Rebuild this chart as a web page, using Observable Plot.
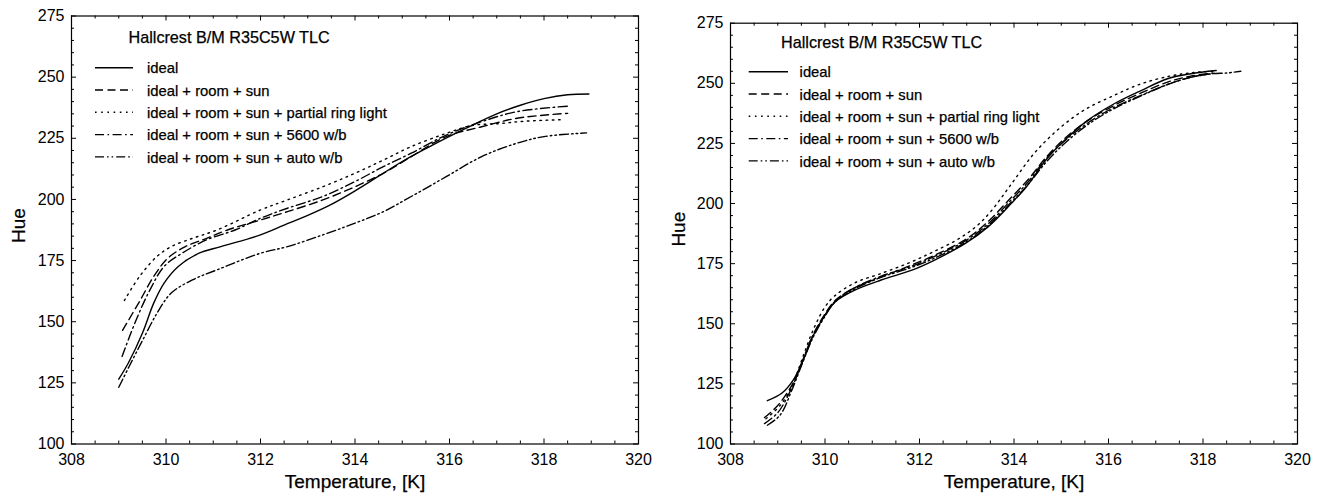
<!DOCTYPE html>
<html><head><meta charset="utf-8">
<script src="https://cdn.jsdelivr.net/npm/d3@7"></script>
<script src="https://cdn.jsdelivr.net/npm/@observablehq/plot@0.6"></script>
<style>
body{margin:0;background:#fff;}
#wrap{position:relative;width:1320px;height:497px;background:#fff;font-family:"Liberation Sans",Arial,Helvetica,sans-serif;}
.panel{position:absolute;top:0;width:660px;height:497px;}
#legend{position:absolute;left:0;top:0;pointer-events:none;}
</style></head><body><div id="wrap"></div>
<script>
// ---------- data ----------
const seriesNames = ["ideal", "ideal + room + sun", "ideal + room + sun + partial ring light", "ideal + room + sun + 5600 w/b", "ideal + room + sun + auto w/b"];
const seriesDash = [null, "8,4.5", "1.6,4.6", "9,3.5,1.6,3.5", "9,3,1.6,3,1.6,3"];
const chartTitle = "Hallcrest B/M R35C5W TLC";
const xLabel = "Temperature, [K]";
const yLabel = "Hue";
const xMajorTicks = [308, 310, 312, 314, 316, 318, 320];
const yMajorTicks = [100, 125, 150, 175, 200, 225, 250, 275];

// left panel  [temperature K, hue]
const leftIdeal = [[309.0,126.5],[309.2,133],[309.5,145.3],[309.74,157.6],[309.96,165.8],[310.26,172.6],[310.7,178],[311.16,180.7],[312,185.5],[312.5,189.5],[313,193.5],[313.5,198],[314,203.5],[314.5,209.5],[315,215.5],[315.5,220.8],[316,225.8],[316.5,230.5],[317,235],[317.5,238.5],[318,241.2],[318.5,242.8],[318.95,243.1]];
const leftRoomSun = [[309.08,146.5],[309.44,158.3],[309.74,168.5],[310.04,176],[310.41,180.7],[310.86,184.1],[311.3,187.5],[312,191.6],[312.57,195],[313.32,199.8],[314,205.2],[314.6,210.7],[315.19,217.5],[315.93,225.7],[316.68,229.7],[317.43,233.2],[318.5,235.2]];
const leftRingLight = [[309.12,158.7],[309.44,168.5],[309.81,176.7],[310.11,180.7],[310.56,184.1],[311.08,187.5],[312,195.7],[312.57,199.8],[313.32,205.2],[314,210.7],[314.6,216.1],[315.19,221.6],[315.93,227],[316.46,230.2],[317.05,231],[317.6,232],[318.37,232.6]];
const left5600 = [[309.07,135.8],[309.37,150.8],[309.66,163],[309.96,172.6],[310.34,178],[310.86,183.5],[311.46,187.5],[312,192.3],[312.57,196.4],[313.32,201.2],[314,207.3],[314.6,213.4],[315.19,218.9],[315.93,226.3],[316.68,231.8],[317.43,235.9],[318.55,238.2]];
const leftAuto = [[309.0,123.2],[309.22,131.7],[309.51,142.6],[309.81,153.5],[310.11,161.7],[310.56,167.1],[311.08,171.2],[312,178],[312.57,180.7],[313.32,185.5],[314,190.3],[314.6,195],[315.19,201.2],[315.93,209.3],[316.68,217.5],[317.43,223],[318,225.7],[318.9,227.2]];

// right panel [temperature K, hue]
const rightIdeal = [[308.78,118],[309.09,121.2],[309.33,126.7],[309.54,135],[309.74,144.7],[309.98,153],[310.22,159.2],[310.63,164],[311.19,168.2],[311.84,172.3],[312.32,176.5],[312.97,183.4],[313.45,190.3],[313.94,200],[314.26,206.9],[314.67,218],[315.07,226.3],[315.56,234.6],[316.12,241.5],[316.69,247],[317.25,251.9],[317.74,254],[318.28,255.3]];
const rightRoomSun = [[308.72,111],[309.0,116],[309.3,124.5],[309.54,135],[309.74,145],[309.98,153.5],[310.22,159.8],[310.63,165],[311.19,169.5],[311.84,174.5],[312.32,178.5],[312.97,185],[313.45,192.5],[313.94,202.5],[314.3,210],[314.67,219],[315.07,227],[315.56,234.5],[316.12,240.8],[316.69,246],[317.25,250.5],[317.74,253],[318.2,254.3]];
const rightRingLight = [[308.75,110.5],[309.05,116],[309.3,124],[309.5,134.5],[309.74,147],[310.0,157],[310.2,161.5],[310.63,167],[311.2,171],[311.8,175.5],[312.3,180],[312.8,185],[313.2,190.5],[313.5,196.5],[313.94,208],[314.42,220.7],[314.91,230.4],[315.47,238.7],[316.12,245],[316.69,249.8],[317.3,253],[317.8,254.5],[318.22,255]];
const right5600 = [[308.72,108.5],[309.0,113],[309.3,123.5],[309.54,135.5],[309.74,145],[309.98,153],[310.22,159.5],[310.63,165],[311.19,169.8],[311.84,174],[312.32,178],[312.97,184.5],[313.45,191.5],[313.94,201.5],[314.3,209],[314.67,218.5],[315.07,226],[315.56,233.5],[316.12,240],[316.69,245],[317.25,249.5],[317.74,252.5],[318.25,254.2]];
const rightAuto = [[308.78,107.8],[309.05,112],[309.3,122.5],[309.54,134.5],[309.74,144],[309.98,152.5],[310.22,159.2],[310.63,164.5],[311.19,169.3],[311.84,173.5],[312.32,177.3],[312.97,183.8],[313.45,190.8],[313.94,200.5],[314.3,208],[314.67,217],[315.07,225],[315.56,232.8],[316.12,239.5],[316.69,244.8],[317.25,249.5],[317.74,252.5],[318.2,254],[318.5,254.3],[318.8,255]];

const leftSeries = [leftIdeal, leftRoomSun, leftRingLight, left5600, leftAuto];
const rightSeries = [rightIdeal, rightRoomSun, rightRingLight, right5600, rightAuto];

// ---------- drawing ----------
const FONT = '"Liberation Sans", Arial, Helvetica, sans-serif';
const W = 660, H = 497;
const TXT = {stroke: "black", strokeWidth: 0.35, fill: "black"};
const xMinor = d3.range(308, 320.001, 0.5).filter(v => !xMajorTicks.includes(v));
const yMinor = d3.range(100, 275.001, 5).filter(v => !yMajorTicks.includes(v));

function panel(series, m) {
  const ph = H - m.top - m.bottom, pw = W - m.left - m.right;
  const marks = [];
  // inward ticks on all four sides
  const tk = (vals, len) => [
    Plot.ruleX(vals, {x: d => d, insetTop: ph - len, stroke: "black", strokeWidth: 1}),
    Plot.ruleX(vals, {x: d => d, insetBottom: ph - len, stroke: "black", strokeWidth: 1}),
  ];
  const tky = (vals, len) => [
    Plot.ruleY(vals, {y: d => d, insetRight: pw - len, stroke: "black", strokeWidth: 1}),
    Plot.ruleY(vals, {y: d => d, insetLeft: pw - len, stroke: "black", strokeWidth: 1}),
  ];
  marks.push(...tk(xMajorTicks, 5), ...tk(xMinor, 3), ...tky(yMajorTicks, 5), ...tky(yMinor, 3));
  series.forEach((s, i) => {
    marks.push(Plot.line(s, {x: d => d[0], y: d => d[1], stroke: "black", strokeWidth: 1.4,
      strokeDasharray: seriesDash[i] || undefined, curve: "catmull-rom"}));
  });
  marks.push(Plot.frame({stroke: "black", strokeWidth: 1.2}));
  marks.push(Plot.axisX(xMajorTicks, {tickSize: 0, tickPadding: 10, fontSize: 16, label: null, ...TXT}));
  marks.push(Plot.axisY(yMajorTicks, {tickSize: 0, tickPadding: 7, fontSize: 16, label: null, ...TXT}));
  marks.push(Plot.text([xLabel], {text: d => d, frameAnchor: "bottom", dy: 37.5, fontSize: 19, lineAnchor: "middle", ...TXT, strokeWidth: 0.25}));
  marks.push(Plot.text([yLabel], {text: d => d, frameAnchor: "left", dx: m.hueDx, dy: 13, rotate: -90, fontSize: 19, lineAnchor: "middle", ...TXT, strokeWidth: 0.25}));
  return Plot.plot({
    width: W, height: H,
    marginLeft: m.left, marginRight: m.right, marginTop: m.top, marginBottom: m.bottom,
    x: {domain: [308, 320], axis: null},
    y: {domain: [100, 275], axis: null},
    style: {fontFamily: FONT, fontSize: "16px", color: "black", background: "white", overflow: "visible"},
    marks
  });
}

const wrap = document.getElementById("wrap");
const leftDiv = document.createElement("div"); leftDiv.className = "panel"; leftDiv.style.left = "0px";
const rightDiv = document.createElement("div"); rightDiv.className = "panel"; rightDiv.style.left = "660px";
leftDiv.appendChild(panel(leftSeries, {left: 71, right: 22, top: 15.5, bottom: 53.5, hueDx: -53}));
rightDiv.appendChild(panel(rightSeries, {left: 70, right: 23, top: 22.7, bottom: 53.5, hueDx: -52}));
wrap.appendChild(leftDiv); wrap.appendChild(rightDiv);

// legends (overlay)
const legendLayouts = [
  {titleX: 128.5, titleY: 43.3, lineX1: 95, lineX2: 133, textX: 147, firstBase: 73.3},
  {titleX: 781, titleY: 47.5, lineX1: 748.7, lineX2: 788, textX: 799.6, firstBase: 77.3}
];
const lg = d3.select(wrap).append("svg").attr("id", "legend").attr("width", 1320).attr("height", 497)
  .style("font-family", FONT);
legendLayouts.forEach(L => {
  lg.append("text").attr("x", L.titleX).attr("y", L.titleY).attr("font-size", 16.2)
    .attr("stroke", "black").attr("stroke-width", 0.25).text(chartTitle);
  seriesNames.forEach((name, i) => {
    const base = L.firstBase + i * 22.3;
    lg.append("line").attr("x1", L.lineX1).attr("x2", L.lineX2).attr("y1", base - 5.6).attr("y2", base - 5.6)
      .attr("stroke", "black").attr("stroke-width", 1.4).attr("stroke-dasharray", seriesDash[i]);
    lg.append("text").attr("x", L.textX).attr("y", base).attr("font-size", 14.8)
      .attr("stroke", "black").attr("stroke-width", 0.25).text(name);
  });
});
</script></body></html>
